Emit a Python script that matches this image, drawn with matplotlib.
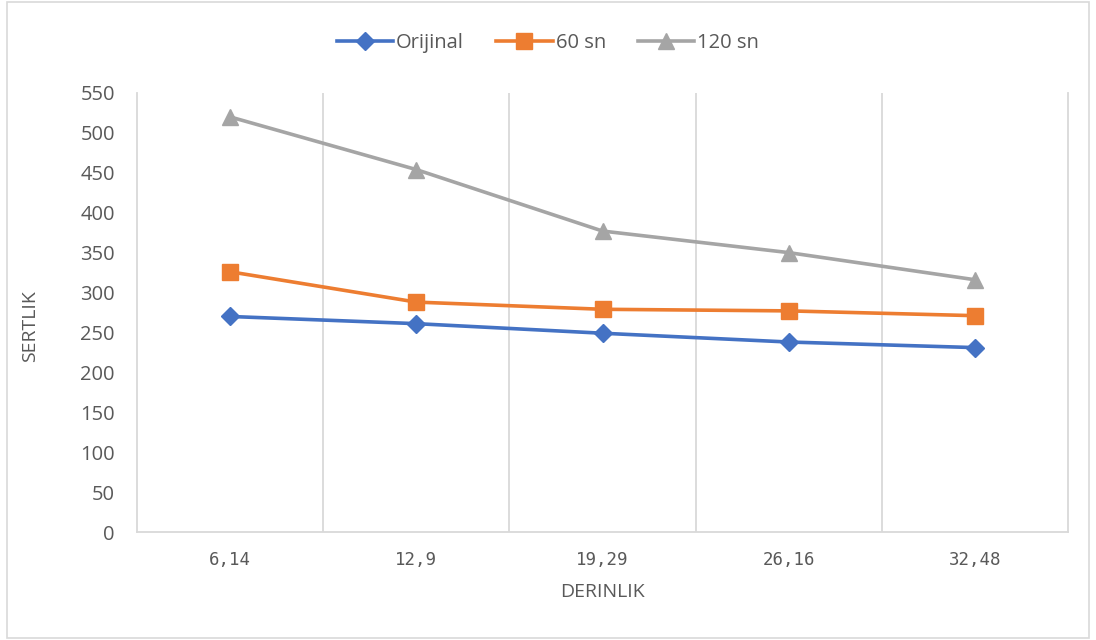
import matplotlib.pyplot as plt
from matplotlib.patches import Rectangle

derinlik = ["6,14", "12,9", "19,29", "26,16", "32,48"]
orijinal = [270, 261, 249, 238, 231]
sn60 = [326, 288, 279, 277, 271]
sn120 = [520, 454, 377, 350, 316]

metin = "#595959"
izgara = "#D9D9D9"

plt.rcParams['font.family'] = ['Open Sans', 'DejaVu Sans']

fig = plt.figure(figsize=(10.96, 6.4), dpi=100)
ax = fig.add_axes([0.125, 0.16875, 0.8495, 0.686])

x = list(range(len(derinlik)))
ax.plot(x, orijinal, color="#4472C4", lw=2.6, marker="D", ms=9, label="Orijinal")
ax.plot(x, sn60, color="#ED7D31", lw=2.6, marker="s", ms=11, label="60 sn")
ax.plot(x, sn120, color="#A5A5A5", lw=2.6, marker="^", ms=12, label="120 sn")

ax.set_xlim(-0.5, len(derinlik) - 0.5)
ax.set_ylim(0, 550)
ax.set_yticks(range(0, 551, 50))
ax.set_xticks(x)
ax.set_xticklabels(derinlik, family="DejaVu Sans Mono", fontsize=12.5, color=metin)
ax.tick_params(axis="y", labelsize=14.5, colors=metin, length=0, pad=16)
ax.tick_params(axis="x", length=0, pad=14)

# dikey ızgara kategoriler arasında
for b in [i + 0.5 for i in range(len(derinlik) - 1)]:
    ax.axvline(b, color=izgara, lw=1.3, zorder=0)
for s in ["left", "right", "bottom"]:
    ax.spines[s].set_color(izgara)
    ax.spines[s].set_linewidth(1.3)
ax.spines["top"].set_visible(False)

ax.set_xlabel("DERINLIK", fontsize=14, color=metin, labelpad=10)
ax.set_ylabel("SERTLIK", fontsize=14, color=metin)
ax.yaxis.set_label_coords(-0.105, 0.47)

fig.legend(loc="upper center", bbox_to_anchor=(0.5, 0.977), ncol=3, frameon=False,
           fontsize=14.5, labelcolor=metin, handlelength=2.8, columnspacing=1.6,
           handletextpad=0.15)

fig.patches.append(Rectangle((0.006, 0.003), 0.988, 0.994, transform=fig.transFigure,
                             fill=False, edgecolor=izgara, lw=1.2))

fig.savefig("out.png", dpi=100)
